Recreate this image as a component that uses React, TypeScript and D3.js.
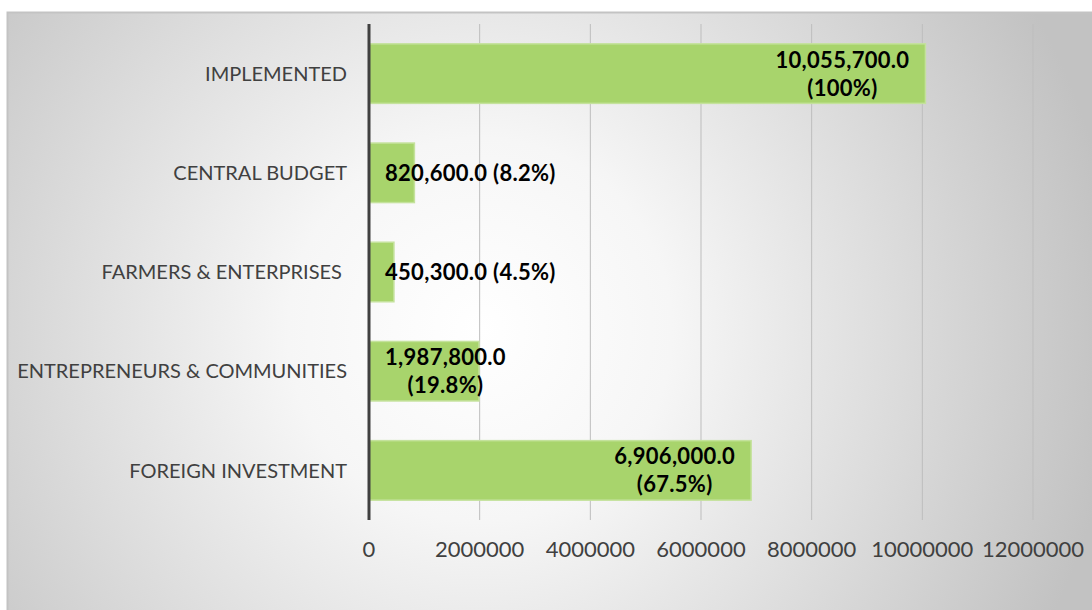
import React, { useEffect, useRef } from 'react'
import * as d3 from 'd3'

const categories = [
  'IMPLEMENTED',
  'CENTRAL BUDGET',
  'FARMERS & ENTERPRISES ',
  'ENTREPRENEURS & COMMUNITIES',
  'FOREIGN INVESTMENT',
]
const values = [10055700, 820600, 450300, 1987800, 6906000]
const valueLabels = [
  ['10,055,700.0', '(100%)'],
  ['820,600.0 (8.2%)'],
  ['450,300.0 (4.5%)'],
  ['1,987,800.0', '(19.8%)'],
  ['6,906,000.0', '(67.5%)'],
]
const xTicks = [0, 2000000, 4000000, 6000000, 8000000, 10000000, 12000000]

export default function App() {
  const svgRef = useRef<SVGSVGElement>(null)

  useEffect(() => {
    if (!svgRef.current) return
    const svg = d3.select(svgRef.current)
    svg.selectAll('*').remove()

    const width = 1092
    const height = 610
    const plot = { left: 369, right: 1033, top: 24, bottom: 520 }
    const font = 'Lato, "Open Sans", sans-serif'
    const textColor = '#404040'

    const defs = svg.append('defs')
    const grad = defs
      .append('radialGradient')
      .attr('id', 'bg')
      .attr('gradientUnits', 'userSpaceOnUse')
      .attr('cx', 480)
      .attr('cy', 330)
      .attr('r', 640)
    grad.append('stop').attr('offset', 0).attr('stop-color', '#ffffff')
    grad.append('stop').attr('offset', 0.3).attr('stop-color', '#f6f6f6')
    grad.append('stop').attr('offset', 1).attr('stop-color', '#c2c2c2')

    svg
      .append('rect')
      .attr('x', 7.5)
      .attr('y', 12.5)
      .attr('width', width)
      .attr('height', height)
      .attr('fill', 'url(#bg)')
      .attr('stroke', '#c3c3c3')
      .attr('stroke-width', 2)

    const x = d3
      .scaleLinear()
      .domain([0, 12000000])
      .range([plot.left, plot.right])

    const y = d3
      .scaleBand<string>()
      .domain(categories)
      .range([plot.top, plot.bottom])
      .paddingInner(0.4)
      .paddingOuter(0.2)

    // gridlines
    svg
      .append('g')
      .selectAll('line')
      .data(xTicks.slice(1))
      .join('line')
      .attr('x1', (d) => x(d))
      .attr('x2', (d) => x(d))
      .attr('y1', plot.top)
      .attr('y2', plot.bottom)
      .attr('stroke', '#bdbdbd')
      .attr('stroke-width', 1)

    // bars
    svg
      .append('g')
      .selectAll('rect')
      .data(categories)
      .join('rect')
      .attr('x', x(0))
      .attr('y', (d) => y(d) as number)
      .attr('width', (d, i) => x(values[i]) - x(0))
      .attr('height', y.bandwidth())
      .attr('fill', '#a8d46c')
      .attr('stroke', '#c4e29c')
      .attr('stroke-width', 1.5)

    // vertical axis line
    svg
      .append('line')
      .attr('x1', x(0))
      .attr('x2', x(0))
      .attr('y1', plot.top)
      .attr('y2', plot.bottom)
      .attr('stroke', '#404040')
      .attr('stroke-width', 3)

    // category labels
    svg
      .append('g')
      .selectAll('text')
      .data(categories)
      .join('text')
      .attr('x', x(0) - 22)
      .attr('y', (d) => (y(d) as number) + y.bandwidth() / 2)
      .attr('dy', '0.36em')
      .attr('text-anchor', 'end')
      .style('white-space', 'pre')
      .attr('font-family', font)
      .attr('font-size', 20)
      .attr('fill', textColor)
      .text((d) => d)

    // x tick labels
    svg
      .append('g')
      .selectAll('text')
      .data(xTicks)
      .join('text')
      .attr('x', (d) => x(d))
      .attr('y', 557)
      .attr('text-anchor', 'middle')
      .attr('font-family', font)
      .attr('font-size', 22)
      .attr('fill', textColor)
      .text((d) => d3.format('d')(d))

    // value labels
    const lineH = 28
    categories.forEach((c, i) => {
      const lines = valueLabels[i]
      const cy = (y(c) as number) + y.bandwidth() / 2
      const t = svg
        .append('text')
        .attr('font-family', font)
        .attr('font-weight', 700)
        .attr('font-size', 22)
        .attr('letter-spacing', 0.3)
        .attr('fill', '#000000')
        .attr('text-anchor', 'middle')
      const spans = lines.map((l, j) =>
        t
          .append('tspan')
          .attr('y', cy + (j - (lines.length - 1) / 2) * lineH)
          .attr('dy', '0.36em')
          .text(l)
      )
      const w = d3.max(spans, (s) => (s.node() as SVGTSpanElement).getComputedTextLength()) || 0
      const left = Math.max(x(0) + 16, x(values[i]) - 16 - w)
      spans.forEach((s) => s.attr('x', left + w / 2))
    })
  }, [])

  return (
    <svg
      ref={svgRef}
      width={1092}
      height={610}
      style={{ position: 'absolute', left: 0, top: 0 }}
    />
  )
}
